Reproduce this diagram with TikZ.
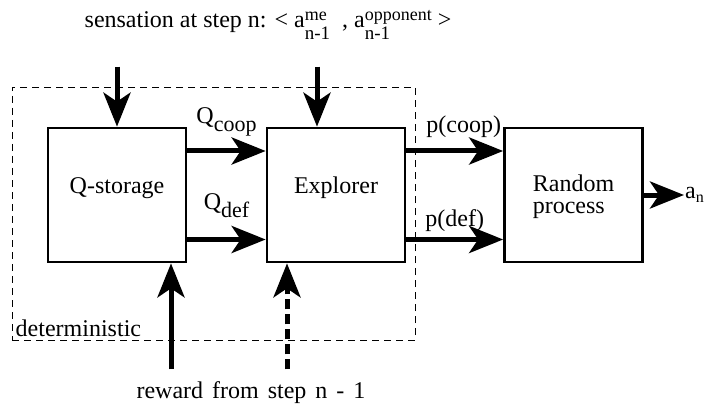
\documentclass[tikz,border=0pt]{standalone}
\usepackage{fontspec}
\setmainfont{Liberation Serif}
\usetikzlibrary{arrows.meta}

% lowered index set at nearly full size
\newcommand{\lowsub}[2][8pt]{\raisebox{-#1}{\fontsize{22}{22}\selectfont #2}}
% index and exponent stacked over each other
\newcommand{\supsub}[2]{%
  \ooalign{\raisebox{7pt}{\fontsize{18}{18}\selectfont #1}\cr
    \raisebox{-12pt}{\fontsize{19}{19}\selectfont #2}\cr}}

\begin{document}
\begin{tikzpicture}[x=1pt, y=-1pt, font=\fontsize{24}{22}\selectfont]

    \tikzset{%
        blockbox/.style={draw, line width=2.7pt, minimum width=138pt,
                minimum height=134pt, text depth=19.5pt, inner sep=0pt},
        bigarrow/.style={line width=5pt,
                -{Stealth[length=34pt, width=27pt, inset=9pt]}},
        arrowlabel/.style={midway, anchor=base, inner sep=0pt},
    }

    \useasboundingbox (0, 0) rectangle (719, 406);

    % frame round the deterministic part
    \node [draw, dash pattern=on 7pt off 5pt, line width=0.9pt, inner sep=0pt,
        minimum width=403pt, minimum height=253pt] (det) at (213.5, 213.5) {};
    \node [anchor=south west, inner sep=4pt] (detlabel) at (det.south west) {deterministic};

    \node [blockbox] (qstore) at (117, 195) {Q-storage};
    \node [blockbox] (explorer) at (336, 195) {Explorer};
    \node [blockbox, align=left, text depth=1pt] (random) at (573.5, 195) {Random\\process};
    \node [anchor=west, inner sep=1pt] (an) at (684, 195)
        {a\raisebox{-4pt}{\fontsize{16}{16}\selectfont n}};

    \node [anchor=base] (sensation) at (268, 28)
        {sensation at step n: < a\supsub{me}{n-1}\ \ , a\supsub{opponent}{n-1} >};
    \node [anchor=base] (reward) at (251, 398) {\spaceskip=9pt reward from step n - 1};

    % inputs from above and below
    \draw [bigarrow] ([yshift=60pt]qstore.north) -- (qstore.north);
    \draw [bigarrow] ([xshift=-19pt, yshift=60pt]explorer.north) -- ([xshift=-19pt]explorer.north);
    \draw [bigarrow] ([xshift=54pt, yshift=-106pt]qstore.south) -- ([xshift=54pt]qstore.south);
    \draw [bigarrow, dash pattern=on 10pt off 5pt]
        ([xshift=-49pt, yshift=-106pt]explorer.south) -- ([xshift=-49pt]explorer.south);

    % values and probabilities
    \draw [bigarrow] ([yshift=44pt]qstore.east) --
        node [arrowlabel, yshift=27pt] {Q\lowsub{coop}} ([yshift=44pt]explorer.west);
    \draw [bigarrow] ([yshift=-44.5pt]qstore.east) --
        node [arrowlabel, yshift=30pt] {Q\lowsub{def}} ([yshift=-44.5pt]explorer.west);
    \draw [bigarrow] ([yshift=44pt]explorer.east) --
        node [arrowlabel, xshift=9pt, yshift=18pt] {p(coop)} ([yshift=44pt]random.west);
    \draw [bigarrow] ([yshift=-44.5pt]explorer.east) --
        node [arrowlabel, yshift=13pt] {p(def)} ([yshift=-44.5pt]random.west);
    \draw [bigarrow] (random) -- (an);

\end{tikzpicture}
\end{document}
